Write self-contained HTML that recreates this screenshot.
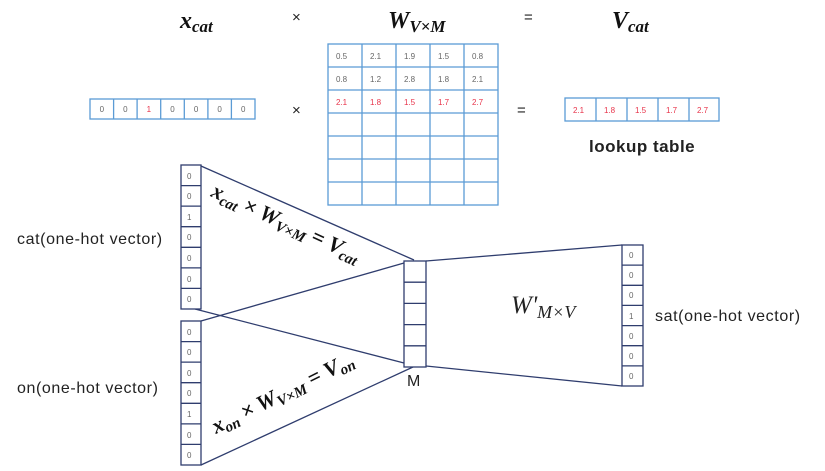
<!DOCTYPE html>
<html><head><meta charset="utf-8"><style>
html,body{margin:0;padding:0;background:#fff;width:825px;height:471px;overflow:hidden}
svg{display:block}
.t{font-family:"Liberation Sans",sans-serif;font-size:8px;fill:#666}
.r{font-family:"Liberation Sans",sans-serif;font-size:8px;fill:#e8334a}
.lb{font-family:"Liberation Sans",sans-serif;font-size:16px;letter-spacing:0.6px;fill:#222}
.m{font-family:"Liberation Serif",serif;font-style:italic;font-weight:bold;fill:#111}
.op{font-family:"Liberation Sans",sans-serif;font-size:15px;fill:#222}
</style></head><body>
<svg width="825" height="471" viewBox="0 0 825 471" xmlns="http://www.w3.org/2000/svg">
<text x="180" y="28" class="m" font-size="24">x<tspan font-size="17" dy="4">cat</tspan></text>
<text x="292" y="22" class="op">×</text>
<text x="388" y="28" class="m" font-size="24">W<tspan font-size="17" dy="4">V×M</tspan></text>
<text x="524" y="22" class="op">=</text>
<text x="612" y="28" class="m" font-size="24">V<tspan font-size="17" dy="4">cat</tspan></text>

<g fill="none" stroke="#5b9bd5" stroke-width="1.3">
<rect x="90" y="99" width="165" height="20"/>
<line x1="113.6" y1="99" x2="113.6" y2="119"/><line x1="137.1" y1="99" x2="137.1" y2="119"/><line x1="160.7" y1="99" x2="160.7" y2="119"/><line x1="184.3" y1="99" x2="184.3" y2="119"/><line x1="207.9" y1="99" x2="207.9" y2="119"/><line x1="231.4" y1="99" x2="231.4" y2="119"/>
</g>
<g class="t" text-anchor="middle">
<text x="101.8" y="112">0</text><text x="125.4" y="112">0</text><text x="148.9" y="112" class="r">1</text><text x="172.5" y="112">0</text><text x="196.1" y="112">0</text><text x="219.6" y="112">0</text><text x="243.2" y="112">0</text>
</g>
<text x="292" y="115" class="op">×</text>
<text x="517" y="115" class="op">=</text>

<g fill="none" stroke="#5b9bd5" stroke-width="1.3">
<rect x="328" y="44" width="170" height="161"/>
<line x1="362" y1="44" x2="362" y2="205"/><line x1="396" y1="44" x2="396" y2="205"/><line x1="430" y1="44" x2="430" y2="205"/><line x1="464" y1="44" x2="464" y2="205"/>
<line x1="328" y1="67" x2="498" y2="67"/><line x1="328" y1="90" x2="498" y2="90"/><line x1="328" y1="113" x2="498" y2="113"/><line x1="328" y1="136" x2="498" y2="136"/><line x1="328" y1="159" x2="498" y2="159"/><line x1="328" y1="182" x2="498" y2="182"/>
</g>
<g class="t">
<text x="336" y="59">0.5</text><text x="370" y="59">2.1</text><text x="404" y="59">1.9</text><text x="438" y="59">1.5</text><text x="472" y="59">0.8</text>
<text x="336" y="82">0.8</text><text x="370" y="82">1.2</text><text x="404" y="82">2.8</text><text x="438" y="82">1.8</text><text x="472" y="82">2.1</text>
</g>
<g class="r">
<text x="336" y="105">2.1</text><text x="370" y="105">1.8</text><text x="404" y="105">1.5</text><text x="438" y="105">1.7</text><text x="472" y="105">2.7</text>
</g>

<g fill="none" stroke="#5b9bd5" stroke-width="1.3">
<rect x="565" y="98" width="154" height="23"/>
<line x1="596" y1="98" x2="596" y2="121"/><line x1="627" y1="98" x2="627" y2="121"/><line x1="658" y1="98" x2="658" y2="121"/><line x1="689" y1="98" x2="689" y2="121"/>
</g>
<g class="r">
<text x="573" y="113">2.1</text><text x="604" y="113">1.8</text><text x="635" y="113">1.5</text><text x="666" y="113">1.7</text><text x="697" y="113">2.7</text>
</g>
<text x="589" y="152" font-family="Liberation Sans,sans-serif" font-weight="bold" font-size="17" letter-spacing="0.5" fill="#222">lookup table</text>

<g stroke="#2f3d6e" stroke-width="1.3" fill="none">
<line x1="201" y1="166" x2="414" y2="260"/>
<line x1="195" y1="309" x2="404" y2="363"/>
<line x1="201" y1="321" x2="404" y2="263"/>
<line x1="201" y1="465" x2="413" y2="367"/>
<line x1="426" y1="261" x2="622" y2="245"/>
<line x1="426" y1="366" x2="622" y2="386"/>
</g>

<g fill="#fff" stroke="#2f3d6e" stroke-width="1.3">
<rect x="181" y="165" width="20" height="144"/>
<rect x="181" y="321" width="20" height="144"/>
<rect x="404" y="261" width="22" height="106"/>
<rect x="622" y="245" width="21" height="141"/>
</g>
<g stroke="#2f3d6e" stroke-width="1.3">
<line x1="181" y1="185.6" x2="201" y2="185.6"/><line x1="181" y1="206.1" x2="201" y2="206.1"/><line x1="181" y1="226.7" x2="201" y2="226.7"/><line x1="181" y1="247.3" x2="201" y2="247.3"/><line x1="181" y1="267.9" x2="201" y2="267.9"/><line x1="181" y1="288.4" x2="201" y2="288.4"/>
<line x1="181" y1="341.6" x2="201" y2="341.6"/><line x1="181" y1="362.1" x2="201" y2="362.1"/><line x1="181" y1="382.7" x2="201" y2="382.7"/><line x1="181" y1="403.3" x2="201" y2="403.3"/><line x1="181" y1="423.9" x2="201" y2="423.9"/><line x1="181" y1="444.4" x2="201" y2="444.4"/>
<line x1="404" y1="282.2" x2="426" y2="282.2"/><line x1="404" y1="303.4" x2="426" y2="303.4"/><line x1="404" y1="324.6" x2="426" y2="324.6"/><line x1="404" y1="345.8" x2="426" y2="345.8"/>
<line x1="622" y1="265.1" x2="643" y2="265.1"/><line x1="622" y1="285.3" x2="643" y2="285.3"/><line x1="622" y1="305.4" x2="643" y2="305.4"/><line x1="622" y1="325.6" x2="643" y2="325.6"/><line x1="622" y1="345.7" x2="643" y2="345.7"/><line x1="622" y1="365.9" x2="643" y2="365.9"/>
</g>
<g class="t">
<text x="187" y="179">0</text><text x="187" y="199">0</text><text x="187" y="220">1</text><text x="187" y="240">0</text><text x="187" y="261">0</text><text x="187" y="282">0</text><text x="187" y="302">0</text>
<text x="187" y="335">0</text><text x="187" y="355">0</text><text x="187" y="376">0</text><text x="187" y="396">0</text><text x="187" y="417">1</text><text x="187" y="438">0</text><text x="187" y="458">0</text>
<text x="629" y="258">0</text><text x="629" y="278">0</text><text x="629" y="298">0</text><text x="629" y="319">1</text><text x="629" y="339">0</text><text x="629" y="359">0</text><text x="629" y="379">0</text>
</g>

<text x="17" y="244" class="lb">cat(one-hot vector)</text>
<text x="17" y="393" class="lb">on(one-hot vector)</text>
<text x="655" y="321" class="lb">sat(one-hot vector)</text>
<text x="407" y="386" class="lb" font-size="17">M</text>

<text transform="translate(210,196) rotate(24.5)" class="m" font-size="22">x<tspan font-size="15" dy="4">cat</tspan><tspan dy="-4"> × W</tspan><tspan font-size="15" dy="4">V×M</tspan><tspan dy="-4"> = V</tspan><tspan font-size="15" dy="4">cat</tspan></text>
<text transform="translate(216,434) rotate(-26.5)" class="m" font-size="22">x<tspan font-size="15" dy="4">on</tspan><tspan dy="-4"> × W</tspan><tspan font-size="15" dy="4">V×M</tspan><tspan dy="-4"> = V</tspan><tspan font-size="15" dy="4">on</tspan></text>

<text x="511" y="313" font-family="Liberation Serif,serif" font-style="italic" font-size="25" fill="#222">W'<tspan font-size="18" dy="5">M×V</tspan></text>
</svg>
</body></html>
